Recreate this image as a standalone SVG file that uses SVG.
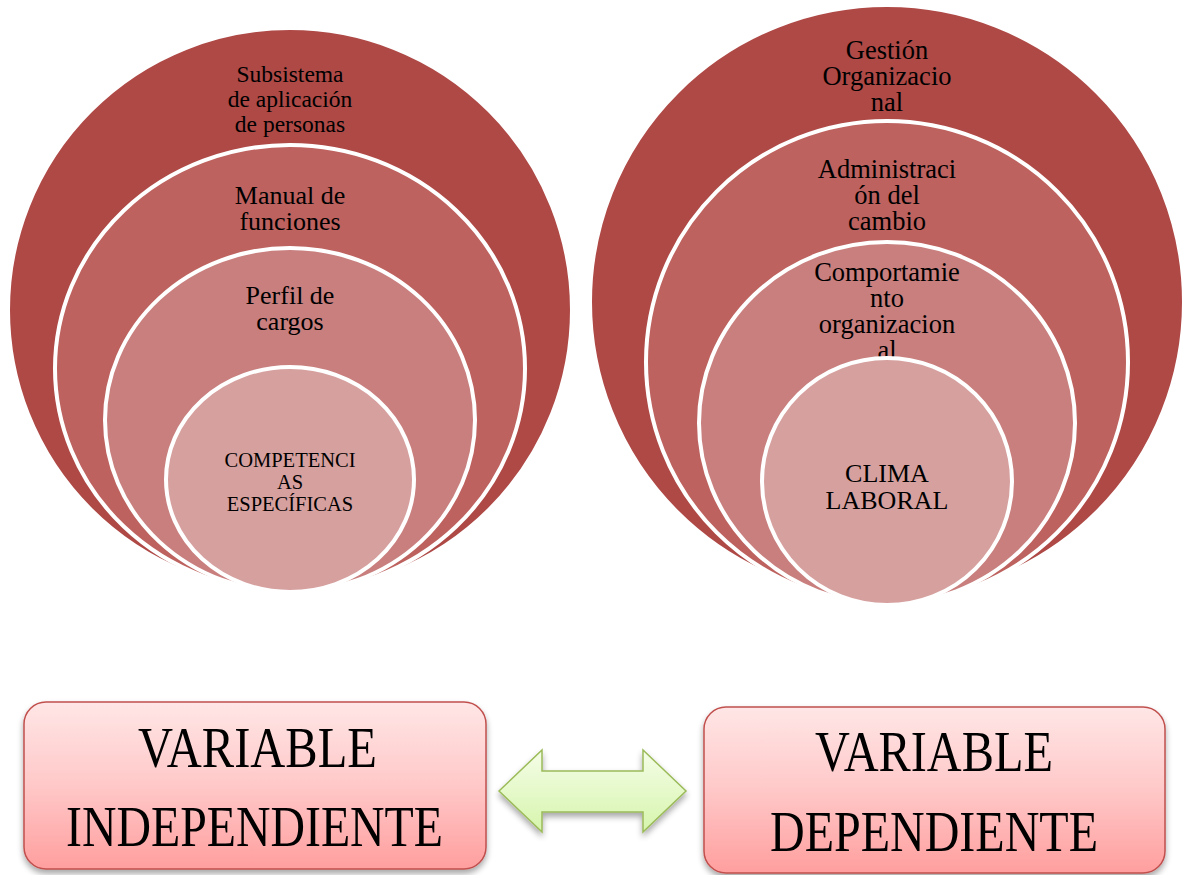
<svg xmlns="http://www.w3.org/2000/svg" width="1192" height="875" viewBox="0 0 1192 875">
<defs>
<style>
.ring{stroke:#FFFFFF;stroke-width:4}
.c1{fill:#AE4946}
.c2{fill:#BD625F}
.c3{fill:#C87F7E}
.c4{fill:#D6A09F}
.t{font-family:"Liberation Serif","Times New Roman",serif;fill:#000;text-anchor:middle}
.big{font-family:"Liberation Serif","Times New Roman",serif;fill:#000;font-size:56px}
.box{fill:url(#boxg);stroke:#C0504D;stroke-width:1.5}
</style>
<linearGradient id="boxg" x1="0" y1="0" x2="0" y2="1">
<stop offset="0" stop-color="#FFE6E6"/>
<stop offset="0.5" stop-color="#FFC8C8"/>
<stop offset="1" stop-color="#FF9E9E"/>
</linearGradient>
<linearGradient id="arrg" x1="0" y1="0" x2="0" y2="1">
<stop offset="0" stop-color="#F5FDE8"/>
<stop offset="1" stop-color="#D6F5AC"/>
</linearGradient>
<filter id="sh" x="-10%" y="-10%" width="120%" height="130%">
<feGaussianBlur in="SourceAlpha" stdDeviation="3"/>
<feOffset dx="0" dy="4" result="b"/>
<feComponentTransfer><feFuncA type="linear" slope="0.35"/></feComponentTransfer>
<feMerge><feMergeNode/><feMergeNode in="SourceGraphic"/></feMerge>
</filter>
</defs>
<rect width="1192" height="875" fill="#FFFFFF"/>

<g id="left-venn">
<g id="subsistema">
<circle class="ring c1" cx="290" cy="310" r="282"/>
<text class="t" font-size="23.5" x="290" y="82">Subsistema</text>
<text class="t" font-size="23.5" x="290" y="107">de aplicación</text>
<text class="t" font-size="23.5" x="290" y="132">de personas</text>
</g>
<g id="manual">
<ellipse class="ring c2" cx="290" cy="368.5" rx="235" ry="223.5"/>
<text class="t" font-size="26" x="290" y="204">Manual de</text>
<text class="t" font-size="26" x="290" y="230">funciones</text>
</g>
<g id="perfil">
<ellipse class="ring c3" cx="290" cy="420" rx="185" ry="172"/>
<text class="t" font-size="26" x="290" y="304">Perfil de</text>
<text class="t" font-size="26" x="290" y="330">cargos</text>
</g>
<g id="competencias">
<ellipse class="ring c4" cx="290" cy="479.5" rx="124" ry="112.5"/>
<text class="t" font-size="20.5" x="290" y="467">COMPETENCI</text>
<text class="t" font-size="20.5" x="290" y="488.5">AS</text>
<text class="t" font-size="20.5" x="290" y="510.5">ESPECÍFICAS</text>
</g>
</g>

<g id="right-venn">
<g id="gestion">
<circle class="ring c1" cx="887" cy="302" r="297"/>
<text class="t" font-size="26.5" x="887" y="59">Gestión</text>
<text class="t" font-size="26.5" x="887" y="85">Organizacio</text>
<text class="t" font-size="26.5" x="887" y="111">nal</text>
</g>
<g id="administracion">
<circle class="ring c2" cx="887" cy="362" r="241"/>
<text class="t" font-size="26.5" x="887" y="178">Administraci</text>
<text class="t" font-size="26.5" x="887" y="204">ón del</text>
<text class="t" font-size="26.5" x="887" y="230">cambio</text>
</g>
<g id="comportamiento">
<ellipse class="ring c3" cx="887" cy="423" rx="188" ry="181"/>
<text class="t" font-size="26.5" x="887" y="281">Comportamie</text>
<text class="t" font-size="26.5" x="887" y="307">nto</text>
<text class="t" font-size="26.5" x="887" y="333">organizacion</text>
<text class="t" font-size="26.5" x="887" y="359">al</text>
</g>
<g id="clima">
<ellipse class="ring c4" cx="887" cy="481.5" rx="125" ry="123.5"/>
<text class="t" font-size="26" x="887" y="482">CLIMA</text>
<text class="t" font-size="26" x="887" y="509">LABORAL</text>
</g>
</g>

<g id="var-independiente">
<rect class="box" x="24" y="702" width="462" height="167" rx="22" filter="url(#sh)"/>
<text class="big" x="138" y="767" textLength="239" lengthAdjust="spacingAndGlyphs">VARIABLE</text>
<text class="big" x="66" y="846" textLength="377" lengthAdjust="spacingAndGlyphs">INDEPENDIENTE</text>
</g>

<g id="connectors">
<path d="M499,791 L542,750 L542,771 L643,771 L643,750 L686,791 L643,832 L643,812 L542,812 L542,832 Z" fill="url(#arrg)" stroke="#9BBB59" stroke-width="1.5" filter="url(#sh)"/>
</g>

<g id="var-dependiente">
<rect class="box" x="704" y="707" width="461" height="166" rx="22" filter="url(#sh)"/>
<text class="big" x="815" y="771" textLength="238" lengthAdjust="spacingAndGlyphs">VARIABLE</text>
<text class="big" x="770" y="851" textLength="328" lengthAdjust="spacingAndGlyphs">DEPENDIENTE</text>
</g>
</svg>
